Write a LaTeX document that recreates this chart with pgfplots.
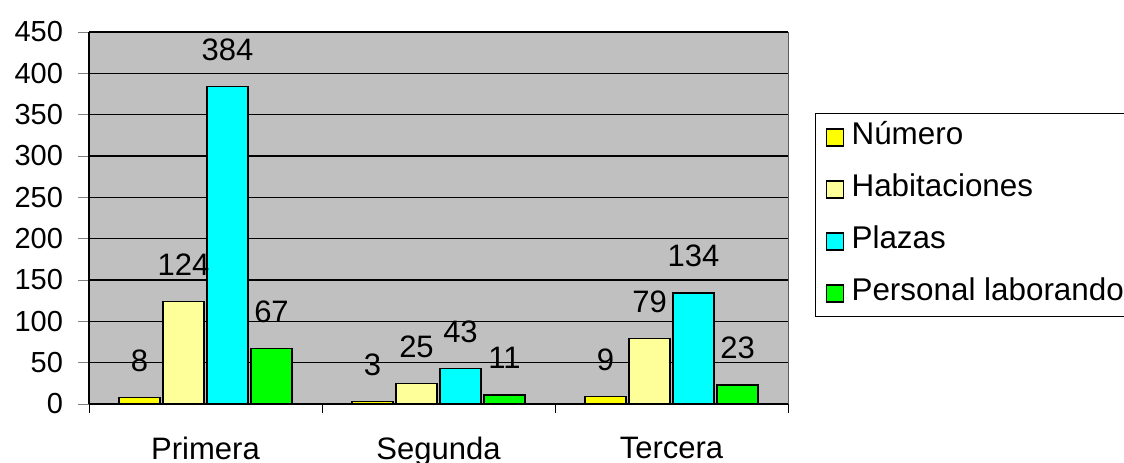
\documentclass[border=0pt]{standalone}
\usepackage{fontspec}
\setmainfont{Liberation Sans}
\usepackage{pgfplots}
\pgfplotsset{compat=1.18}
\definecolor{bggray}{HTML}{C0C0C0}
\definecolor{cYellow}{HTML}{FFFF00}
\definecolor{cLight}{HTML}{FFFF99}
\definecolor{cCyan}{HTML}{00FFFF}
\definecolor{cGreen}{HTML}{00FF00}
\begin{document}
\begin{tikzpicture}
\path[use as bounding box] (0,0) rectangle (562pt,231pt);
\clip (0,0) rectangle (562pt,231pt);
\begin{axis}[
  at={(44.5pt,29pt)}, anchor=south west,
  scale only axis, width=349.5pt, height=186pt,
  font=\fontsize{15.5}{17}\selectfont,
  /pgf/number format/assume math mode=true,
  ybar=1.5pt, bar width=20.5pt,
  xmin=-0.5, xmax=2.5, ymin=0, ymax=450,
  ytick={0,50,...,450},
  xtick={0,1,2}, xticklabels={Primera,Segunda,Tercera},
  major x tick style={draw=none},
  extra x ticks={-0.5,0.5,1.5,2.5}, extra x tick labels={},
  extra x tick style={major tick length=4.5pt, major x tick style={draw=black}, grid=none},
  xticklabel style={yshift=-7.5pt, font=\fontsize{15.5}{17}\selectfont},
  tick align=outside, major tick length=5.5pt,
  axis x line*=bottom, axis y line*=left,
  axis line style={black, line width=0.8pt, -},
  axis background/.style={fill=bggray, draw=gray!70!black},
  ymajorgrids, grid style={black, line width=0.6pt},
  yticklabel style={xshift=-4pt, font=\fontsize{14.5}{16}\selectfont},
  nodes near coords,
  every node near coord/.append style={anchor=center, yshift=18.5pt, font=\fontsize{15.5}{17}\selectfont},
  legend style={at={(1.0386,0.782)}, anchor=north west, draw=black, line width=0.6pt,
    fill=white, font=\fontsize{15.7}{17}\selectfont,
    nodes={inner sep=2pt, text height=10.5pt, text depth=3pt},
    row sep=8.5pt, inner sep=3pt},
  legend cell align=left,
  legend image code/.code={\path[draw=none, fill=none] (0pt,0pt) -- (13pt,0pt);\draw[#1, line width=0.8pt] (2.5pt,-4.5pt) rectangle (11pt,4pt);},
]
\addplot[fill=cYellow, draw=black, line width=0.8pt] coordinates {(0,8) (1,3) (2,9)};
\addplot[fill=cLight, draw=black, line width=0.8pt] coordinates {(0,124) (1,25) (2,79)};
\addplot[fill=cCyan, draw=black, line width=0.8pt] coordinates {(0,384) (1,43) (2,134)};
\addplot[fill=cGreen, draw=black, line width=0.8pt] coordinates {(0,67) (1,11) (2,23)};
\legend{Número,Habitaciones,Plazas,Personal laborando}
\end{axis}
\end{tikzpicture}
\end{document}
